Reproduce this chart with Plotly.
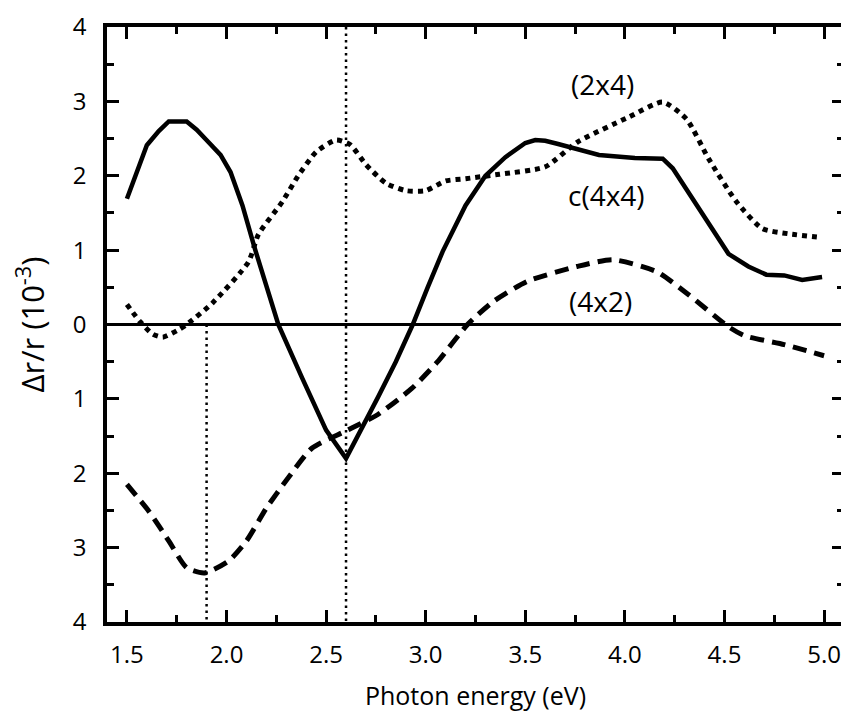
import plotly.graph_objects as go

# c(4x4) curve
c44_x = [1.50, 1.55, 1.60, 1.66, 1.71, 1.80, 1.85, 1.91, 1.97, 2.02, 2.08, 2.14, 2.20, 2.26, 2.38, 2.50, 2.60, 2.68, 2.76, 2.85, 2.935, 3.01, 3.085, 3.20, 3.30, 3.40, 3.50, 3.55, 3.60, 3.66, 3.87, 4.05, 4.19, 4.24, 4.36, 4.52, 4.62, 4.71, 4.80, 4.89, 4.99]
c44_y = [1.69, 2.07, 2.41, 2.60, 2.73, 2.73, 2.62, 2.45, 2.28, 2.05, 1.60, 1.04, 0.52, 0.00, -0.72, -1.42, -1.80, -1.40, -0.98, -0.50, 0.00, 0.50, 0.98, 1.60, 2.00, 2.25, 2.44, 2.48, 2.47, 2.43, 2.28, 2.24, 2.23, 2.10, 1.61, 0.95, 0.78, 0.67, 0.66, 0.60, 0.64]

# (2x4) curve
s24_x = [1.50, 1.565, 1.63, 1.68, 1.76, 1.80, 1.93, 2.11, 2.16, 2.28, 2.36, 2.45, 2.55, 2.62, 2.70, 2.80, 2.90, 3.00, 3.10, 3.20, 3.37, 3.60, 3.76, 4.02, 4.19, 4.31, 4.42, 4.56, 4.69, 4.82, 4.99]
s24_y = [0.27, 0.04, -0.13, -0.17, -0.07, 0.00, 0.29, 0.84, 1.21, 1.65, 2.00, 2.32, 2.48, 2.42, 2.15, 1.90, 1.80, 1.80, 1.93, 1.96, 2.02, 2.12, 2.45, 2.79, 2.99, 2.76, 2.23, 1.65, 1.29, 1.22, 1.17]

# (4x2) curve
s42_x = [1.50, 1.61, 1.71, 1.80, 1.89, 2.01, 2.10, 2.20, 2.31, 2.43, 2.60, 2.76, 2.93, 3.06, 3.21, 3.34, 3.51, 3.76, 3.94, 4.16, 4.32, 4.52, 4.60, 4.80, 5.00]
s42_y = [-2.15, -2.51, -2.91, -3.27, -3.34, -3.18, -2.91, -2.47, -2.06, -1.66, -1.43, -1.21, -0.86, -0.50, 0.00, 0.31, 0.58, 0.78, 0.87, 0.71, 0.40, -0.03, -0.15, -0.27, -0.42]

# vertical guide lines
guide_x = [1.9, 2.6]
guide_top = [0, 4]
guide_bottom = [-4, -4]

# tick labels
x_ticks = [1.5, 2.0, 2.5, 3.0, 3.5, 4.0, 4.5, 5.0]
x_ticktext = ["1.5", "2.0", "2.5", "3.0", "3.5", "4.0", "4.5", "5.0"]
y_ticks = [-4, -3, -2, -1, 0, 1, 2, 3, 4]
y_ticktext = ["4", "3", "2", "1", "0", "1", "2", "3", "4"]

# curve labels
label_text = ["(2x4)", "c(4x4)", "(4x2)"]
label_x = [3.89, 3.91, 3.88]
label_y = [3.23, 1.74, 0.31]

FONT = "Open Sans"

fig = go.Figure()

for gx, gt, gb in zip(guide_x, guide_top, guide_bottom):
    fig.add_trace(go.Scatter(x=[gx, gx], y=[gt, gb], mode="lines",
                             line=dict(color="black", width=2.5, dash="2.5px,4px"),
                             showlegend=False, hoverinfo="skip"))

fig.add_trace(go.Scatter(x=s24_x, y=s24_y, mode="lines", line_shape="spline",
                         line=dict(color="black", width=5, dash="5px,5px", smoothing=0.6),
                         showlegend=False))
fig.add_trace(go.Scatter(x=s42_x, y=s42_y, mode="lines", line_shape="spline",
                         line=dict(color="black", width=5, dash="14px,8px", smoothing=0.6),
                         showlegend=False))
fig.add_trace(go.Scatter(x=c44_x, y=c44_y, mode="lines", line_shape="linear",
                         line=dict(color="black", width=4.5),
                         showlegend=False))

for t, lx, ly in zip(label_text, label_x, label_y):
    fig.add_annotation(x=lx, y=ly, text=t, showarrow=False,
                       font=dict(family=FONT, size=28, color="black"))

axis_common = dict(showline=True, linecolor="black", linewidth=3.5, mirror="ticks",
                   ticks="inside", ticklen=12, tickwidth=3, tickcolor="black",
                   showgrid=False, ticklabeloverflow="allow",
                   tickfont=dict(family=FONT, size=24, color="black"))

fig.update_xaxes(range=[1.4, 5.1], tickvals=x_ticks, ticktext=x_ticktext,
                 zeroline=False,
                 minor=dict(ticks="inside", ticklen=7, tickwidth=3, tickcolor="black",
                            dtick=0.25, tick0=1.5, showgrid=False),
                 title=dict(text="Photon energy (eV)", standoff=20,
                            font=dict(family=FONT, size=25, color="black")),
                 ticklabelstandoff=8,
                 **axis_common)
fig.update_yaxes(range=[-4, 4], tickvals=y_ticks, ticktext=y_ticktext,
                 zeroline=True, zerolinecolor="black", zerolinewidth=3,
                 minor=dict(ticks="inside", ticklen=7, tickwidth=3, tickcolor="black",
                            dtick=0.5, tick0=0, showgrid=False),
                 title=dict(text="Δr/r (10<sup>-3</sup>)", standoff=26,
                            font=dict(family=FONT, size=31, color="black")),
                 ticklabelstandoff=12,
                 **axis_common)

fig.update_layout(width=841, height=708, plot_bgcolor="white", paper_bgcolor="white",
                  margin=dict(l=99, r=1, t=17, b=94), showlegend=False)

fig.write_html("out.html")
